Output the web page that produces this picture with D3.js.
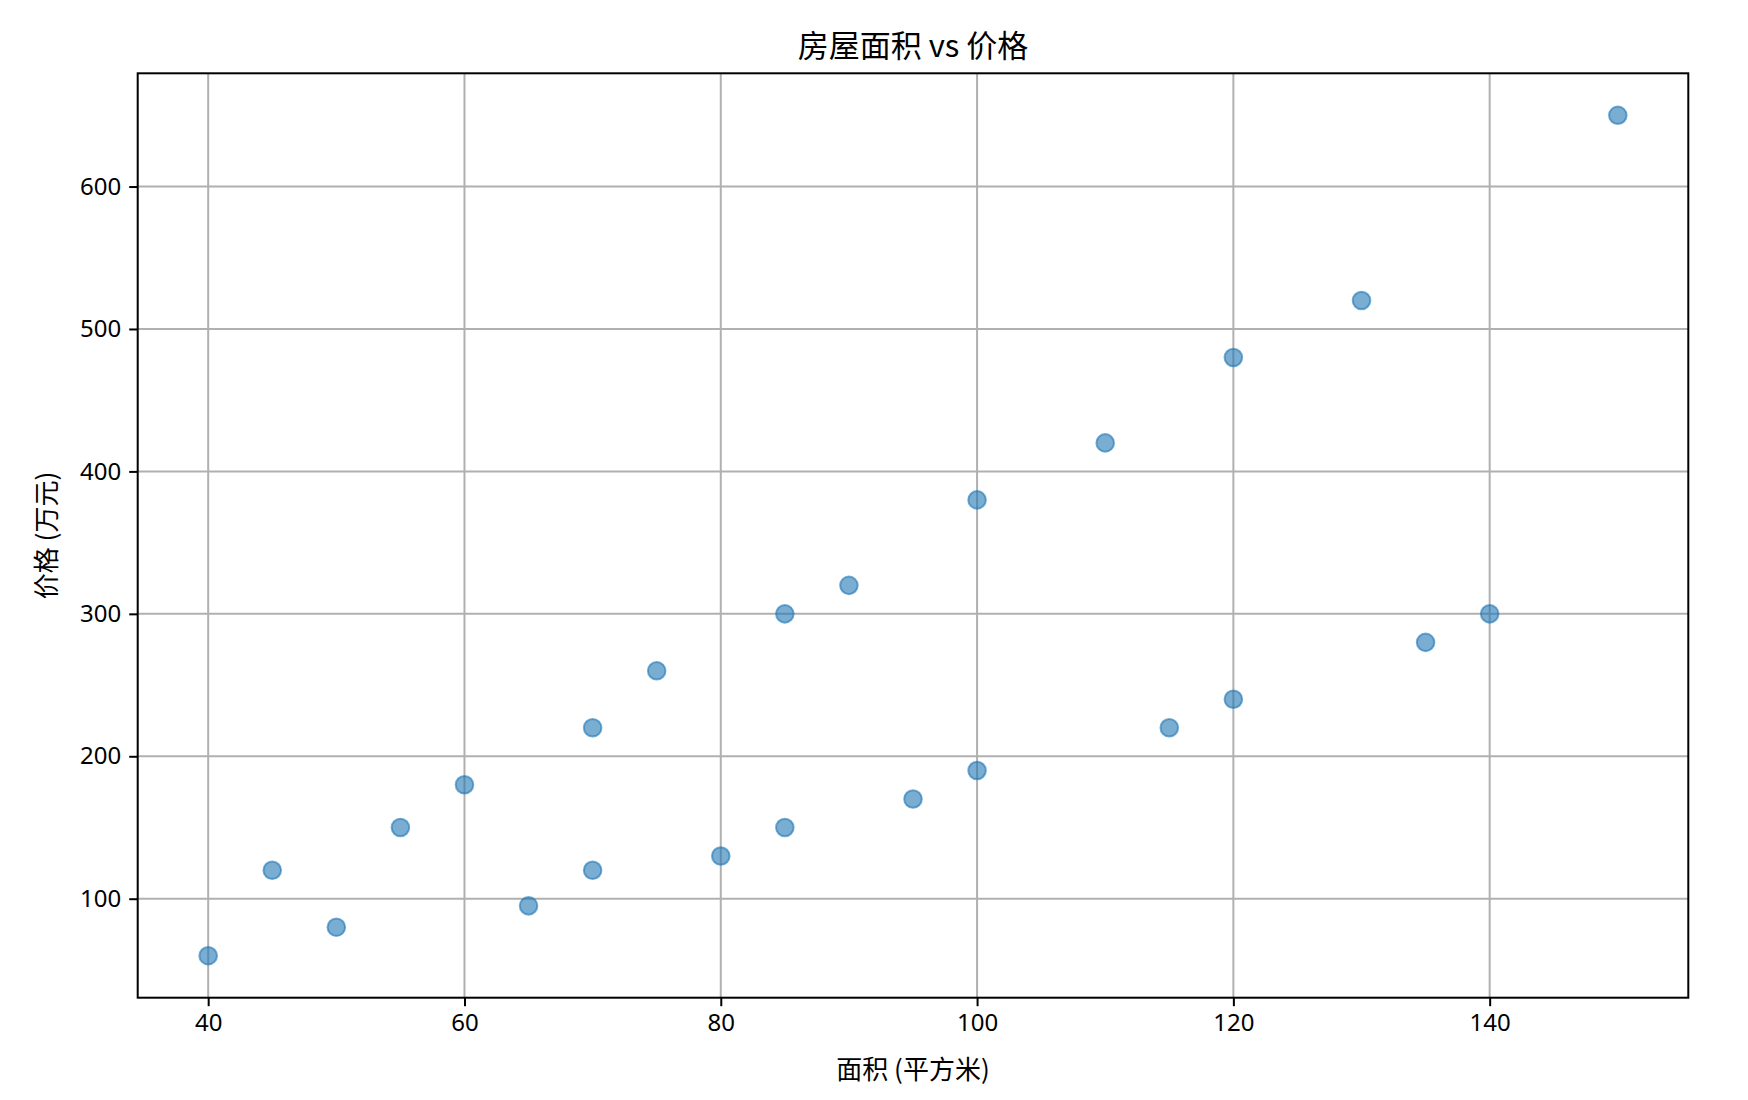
<!DOCTYPE html>
<html>
<head>
<meta charset="utf-8">
<script src="https://cdn.jsdelivr.net/npm/d3@7"></script>
<style>
  body { margin: 0; background: #fff; }
  text { font-family: "Noto Sans CJK SC", "Noto Sans", sans-serif; fill: #000; }
</style>
</head>
<body>
<div id="chart-area"></div>
<script>
// house size (sqm) vs price (10k yuan)
var areas  = [40, 45, 50, 55, 60, 65, 70, 70, 75, 80, 85, 85, 90, 95, 100, 100, 110, 115, 120, 120, 130, 135, 140, 150];
var prices = [60, 120, 80, 150, 180, 95, 120, 220, 260, 130, 150, 300, 320, 170, 190, 380, 420, 220, 240, 480, 520, 280, 300, 650];
var xTicks = [40, 60, 80, 100, 120, 140];
var yTicks = [100, 200, 300, 400, 500, 600];

var chartTitle = "房屋面积 vs 价格";
var xLabel = "面积 (平方米)";
var yLabel = "价格 (万元)";

var width = 1748, height = 1100;
var plotLeft = 137.7, plotRight = 1688.3, plotTop = 73.3, plotBottom = 997.7;

var data = areas.map(function(a, i){ return {x: a, y: prices[i]}; });

// matplotlib-style 5% margins
var xMin = d3.min(areas), xMax = d3.max(areas);
var yMin = d3.min(prices), yMax = d3.max(prices);
var xPad = (xMax - xMin) * 0.05, yPad = (yMax - yMin) * 0.05;

var x = d3.scaleLinear().domain([xMin - xPad, xMax + xPad]).range([plotLeft, plotRight]);
var y = d3.scaleLinear().domain([yMin - yPad, yMax + yPad]).range([plotBottom, plotTop]);

var svg = d3.select("#chart-area").append("svg")
	.attr("width", width)
	.attr("height", height);

svg.append("rect").attr("width", width).attr("height", height).attr("fill", "#fff");

// grid
svg.append("g").selectAll("line").data(xTicks).enter().append("line")
	.attr("x1", function(d){ return x(d); }).attr("x2", function(d){ return x(d); })
	.attr("y1", plotTop).attr("y2", plotBottom)
	.attr("stroke", "#b0b0b0").attr("stroke-width", 2);
svg.append("g").selectAll("line").data(yTicks).enter().append("line")
	.attr("y1", function(d){ return y(d); }).attr("y2", function(d){ return y(d); })
	.attr("x1", plotLeft).attr("x2", plotRight)
	.attr("stroke", "#b0b0b0").attr("stroke-width", 2);

// points
svg.append("g").selectAll("circle").data(data).enter().append("circle")
	.attr("cx", function(d){ return x(d.x); })
	.attr("cy", function(d){ return y(d.y); })
	.attr("r", 8.8)
	.attr("fill", "#1f77b4").attr("fill-opacity", 0.6)
	.attr("stroke", "#1f77b4").attr("stroke-opacity", 0.6).attr("stroke-width", 2);

// axes
var xAxis = d3.axisBottom(x).tickValues(xTicks).tickSize(8.5).tickPadding(8);
var yAxis = d3.axisLeft(y).tickValues(yTicks).tickSize(8.5).tickPadding(8);

var gx = svg.append("g").attr("transform", "translate(0," + plotBottom + ")").call(xAxis);
var gy = svg.append("g").attr("transform", "translate(" + plotLeft + ",0)").call(yAxis);
[gx, gy].forEach(function(g){
	g.select(".domain").remove();
	g.selectAll(".tick line").attr("stroke", "#000").attr("stroke-width", 2);
	g.selectAll(".tick text").style("font-size", "24px").attr("fill", "#000")
		.style("font-family", "'Noto Sans', sans-serif");
});

// frame
svg.append("rect")
	.attr("x", plotLeft).attr("y", plotTop)
	.attr("width", plotRight - plotLeft).attr("height", plotBottom - plotTop)
	.attr("fill", "none").attr("stroke", "#000").attr("stroke-width", 2);

// labels
svg.append("text")
	.attr("x", (plotLeft + plotRight) / 2).attr("y", 57)
	.attr("text-anchor", "middle")
	.style("font-size", "31px")
	.text(chartTitle);

svg.append("text")
	.attr("x", (plotLeft + plotRight) / 2).attr("y", 1079)
	.attr("text-anchor", "middle")
	.style("font-size", "26px")
	.text(xLabel);

svg.append("text")
	.attr("transform", "translate(56," + ((plotTop + plotBottom) / 2) + ") rotate(-90)")
	.attr("text-anchor", "middle")
	.style("font-size", "26px")
	.text(yLabel);
</script>
</body>
</html>
